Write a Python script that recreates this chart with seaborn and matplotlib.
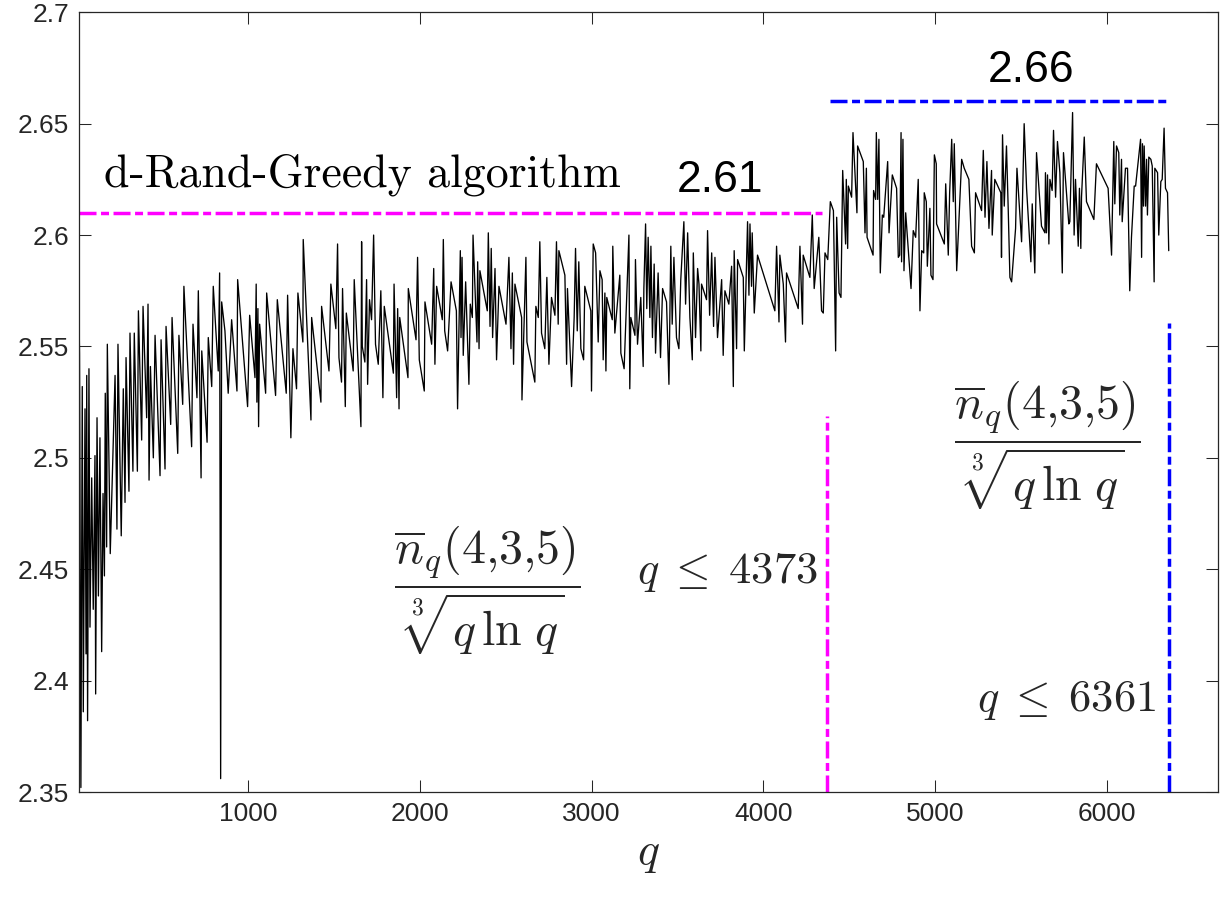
import numpy as np
import pandas as pd
import matplotlib
matplotlib.use("Agg")
import matplotlib.pyplot as plt
import seaborn as sns

# ---------------- data ----------------
q_values = [
    14, 17, 25, 33, 39, 49, 55, 59, 64, 72, 78, 88, 97, 107, 111, 119, 127, 136, 146, 154,
    162, 167, 175, 179, 196, 224, 235, 241, 260, 272, 282, 288, 305, 311, 328, 336, 354, 360,
    379, 387, 408, 416, 422, 430, 447, 457, 486, 492, 515, 521, 548, 556, 589, 596, 618, 625,
    670, 678, 701, 709, 725, 729, 760, 767, 787, 796, 825, 833, 839, 845,
    864, 883, 903, 934, 938, 996, 1008, 1039, 1046, 1050, 1056, 1060, 1066, 1101, 1107, 1159,
    1169, 1221, 1229, 1248, 1260, 1281, 1289, 1318, 1320, 1365, 1369, 1423, 1427, 1470, 1481,
    1510, 1520, 1528, 1543, 1549, 1565, 1571, 1611, 1617, 1656, 1660, 1664, 1679, 1689, 1695,
    1706, 1718, 1730, 1741, 1757, 1772, 1784, 1792,
    1845, 1849, 1864, 1870, 1878, 1882, 1930, 1932, 1977, 1986, 1996, 2025, 2029, 2068, 2080,
    2087, 2097, 2130, 2136, 2144, 2161, 2181, 2212, 2219, 2235, 2239, 2245, 2252, 2266, 2285,
    2293, 2305, 2309, 2332, 2336, 2344, 2349, 2392, 2398, 2408, 2415, 2423, 2437, 2446, 2460,
    2501, 2518, 2530, 2538, 2545, 2553, 2592, 2594, 2617, 2623,
    2669, 2675, 2689, 2698, 2708, 2727, 2739, 2751, 2766, 2786, 2795, 2805, 2809, 2844, 2854,
    2859, 2883, 2898, 2906, 2916, 2925, 2937, 2953, 2960, 2995, 2999, 3009, 3023, 3038, 3048,
    3061, 3067, 3077, 3083, 3088, 3120, 3123, 3135, 3164, 3170, 3189, 3203, 3217, 3222, 3228,
    3252, 3255, 3267, 3286, 3300, 3304, 3314, 3321, 3329, 3339, 3345, 3354, 3364, 3372, 3387,
    3401, 3413, 3436, 3450, 3461, 3469, 3479, 3494, 3508, 3519, 3537,
    3547, 3559, 3572, 3586, 3592, 3605, 3617, 3625, 3636, 3640, 3669, 3675, 3687, 3699, 3710,
    3718, 3733, 3757, 3766, 3776, 3799, 3815, 3825, 3830, 3844, 3850, 3883, 3889, 3908, 3916,
    3922, 3931, 3935, 3947, 3966, 4067, 4077, 4091, 4096, 4116, 4129, 4135, 4203, 4213, 4228,
    4232, 4271, 4285, 4296, 4323, 4339, 4349,
    4359, 4375, 4390, 4408, 4421, 4427, 4441, 4452, 4462, 4479, 4483, 4491, 4495, 4514, 4522,
    4545, 4549, 4582, 4592, 4600, 4604, 4639, 4642, 4654, 4658, 4666, 4673, 4681, 4693, 4701,
    4724, 4732, 4751, 4776, 4786, 4794, 4802, 4805, 4813, 4819, 4829, 4860, 4873, 4887, 4902,
    4912, 4922, 4934, 4937, 4949, 4955, 4970, 4976, 4988, 4996, 5007, 5009, 5029, 5054, 5062,
    5077, 5085, 5097, 5106, 5112, 5126, 5155, 5170, 5197, 5213, 5229, 5236, 5271, 5281, 5291,
    5302, 5314, 5329, 5333, 5348, 5383, 5387, 5393, 5403, 5416, 5426, 5436, 5446, 5469, 5477,
    5504, 5519, 5533, 5558, 5566, 5581, 5591, 5620, 5640, 5643, 5649, 5655, 5663, 5669, 5682,
    5690, 5702, 5713, 5727, 5741, 5748, 5779, 5785, 5801, 5810, 5818, 5834, 5841, 5849, 5853,
    5869, 5882, 5925, 5940, 6008, 6028, 6041, 6047, 6057, 6070, 6076, 6086, 6090, 6109, 6121,
    6134, 6144, 6160, 6168, 6197, 6203, 6208, 6214, 6218, 6226, 6232, 6237, 6245, 6257, 6265,
    6276, 6280, 6296, 6303, 6315, 6323, 6334, 6342, 6354, 6361,
]

ratio_values = [
    2.565, 2.547, 2.352, 2.532, 2.386, 2.522, 2.412, 2.537, 2.382, 2.540, 2.424, 2.491, 2.432,
    2.501, 2.394, 2.518, 2.438, 2.509, 2.413, 2.484, 2.447, 2.529, 2.460, 2.551, 2.457, 2.537,
    2.468, 2.551, 2.465, 2.531, 2.480, 2.545, 2.485, 2.556, 2.494, 2.556, 2.494, 2.566, 2.508,
    2.568, 2.518, 2.569, 2.490, 2.541, 2.500, 2.555, 2.492, 2.553, 2.495, 2.559, 2.515, 2.563,
    2.502, 2.555, 2.524, 2.577, 2.505, 2.560, 2.527, 2.575, 2.491, 2.548, 2.507, 2.554, 2.532,
    2.577, 2.539, 2.583, 2.356, 2.570,
    2.557, 2.529, 2.562, 2.530, 2.580, 2.523, 2.564, 2.536, 2.578, 2.525, 2.567, 2.514, 2.560,
    2.529, 2.574, 2.528, 2.571, 2.529, 2.573, 2.509, 2.549, 2.531, 2.574, 2.552, 2.598, 2.517,
    2.563, 2.525, 2.568, 2.539, 2.578, 2.558, 2.596, 2.545, 2.534, 2.576, 2.523, 2.565, 2.539,
    2.580, 2.514, 2.597, 2.550, 2.543, 2.580, 2.533, 2.571, 2.562, 2.600, 2.551, 2.542, 2.575,
    2.527, 2.568,
    2.538, 2.578, 2.527, 2.567, 2.522, 2.563, 2.536, 2.576, 2.553, 2.590, 2.544, 2.530, 2.570,
    2.551, 2.585, 2.542, 2.577, 2.562, 2.598, 2.557, 2.548, 2.579, 2.566, 2.522, 2.593, 2.554,
    2.590, 2.546, 2.579, 2.533, 2.569, 2.563, 2.600, 2.552, 2.588, 2.549, 2.584, 2.566, 2.601,
    2.559, 2.594, 2.554, 2.585, 2.544, 2.577, 2.560, 2.590, 2.549, 2.583, 2.542, 2.578, 2.563,
    2.526, 2.590, 2.552,
    2.534, 2.568, 2.563, 2.597, 2.556, 2.549, 2.581, 2.542, 2.572, 2.564, 2.597, 2.560, 2.593,
    2.582, 2.542, 2.576, 2.532, 2.563, 2.594, 2.557, 2.588, 2.549, 2.544, 2.577, 2.566, 2.530,
    2.596, 2.592, 2.552, 2.584, 2.580, 2.544, 2.574, 2.539, 2.572, 2.562, 2.595, 2.556, 2.582,
    2.547, 2.540, 2.570, 2.600, 2.531, 2.563, 2.555, 2.589, 2.551, 2.572, 2.541, 2.576, 2.605,
    2.567, 2.599, 2.563, 2.595, 2.554, 2.587, 2.547, 2.583, 2.545, 2.576, 2.570, 2.533, 2.595,
    2.560, 2.590, 2.554, 2.549, 2.580, 2.606,
    2.569, 2.601, 2.563, 2.544, 2.592, 2.554, 2.585, 2.578, 2.548, 2.578, 2.571, 2.602, 2.564,
    2.592, 2.559, 2.590, 2.554, 2.580, 2.546, 2.575, 2.569, 2.586, 2.532, 2.593, 2.549, 2.589,
    2.581, 2.548, 2.606, 2.573, 2.605, 2.577, 2.601, 2.565, 2.591, 2.566, 2.595, 2.561, 2.591,
    2.578, 2.552, 2.583, 2.567, 2.595, 2.560, 2.591, 2.581, 2.609, 2.576, 2.599, 2.566, 2.565,
    2.592, 2.589, 2.615, 2.611, 2.548, 2.608, 2.574, 2.572, 2.629, 2.596, 2.625, 2.594, 2.622,
    2.617, 2.646, 2.610, 2.640, 2.633, 2.601, 2.630, 2.599, 2.591, 2.620, 2.616, 2.646, 2.616,
    2.643, 2.583, 2.609, 2.608, 2.633, 2.601, 2.627, 2.621, 2.590, 2.591, 2.646, 2.588, 2.643,
    2.584, 2.610, 2.576, 2.602, 2.599, 2.625, 2.566, 2.593, 2.592, 2.619, 2.615, 2.586, 2.612,
    2.582, 2.580, 2.636, 2.632, 2.605, 2.601, 2.596, 2.623, 2.591, 2.619, 2.643, 2.615, 2.641,
    2.584, 2.634, 2.630, 2.625, 2.595, 2.592, 2.619, 2.611, 2.638, 2.608,
    2.633, 2.603, 2.629, 2.600, 2.625, 2.619, 2.590, 2.645, 2.613, 2.640, 2.612, 2.581, 2.579,
    2.603, 2.630, 2.597, 2.650, 2.621, 2.588, 2.614, 2.583, 2.637, 2.604, 2.601, 2.628, 2.601,
    2.627, 2.596, 2.625, 2.620, 2.647, 2.617, 2.642, 2.628, 2.583, 2.637, 2.605, 2.606, 2.655,
    2.600, 2.625, 2.595, 2.621, 2.594, 2.617, 2.644, 2.615, 2.607, 2.632, 2.621, 2.591, 2.642,
    2.614, 2.640, 2.637, 2.609, 2.634, 2.606, 2.630, 2.630, 2.575, 2.599, 2.622, 2.622, 2.643,
    2.590, 2.641, 2.613, 2.640, 2.613, 2.634, 2.609, 2.635, 2.634, 2.631, 2.579, 2.630, 2.628,
    2.600, 2.624, 2.625, 2.648, 2.621, 2.619, 2.593,
]

x_ticks = [1000, 2000, 3000, 4000, 5000, 6000]
x_tick_labels = ["1000", "2000", "3000", "4000", "5000", "6000"]
y_ticks = [2.35, 2.40, 2.45, 2.50, 2.55, 2.60, 2.65, 2.70]
y_tick_labels = ["2.35", "2.4", "2.45", "2.5", "2.55", "2.6", "2.65", "2.7"]

rand_greedy_level = 2.61
rand_greedy_qmax = 4373
rand_greedy_hline_q = [14, 4342]
rand_greedy_vline_top = 2.519

other_level = 2.66
other_qmax = 6361
other_hline_q = [4388, 6368]
other_vline_top = 2.5605

# ---------------- styling ----------------
sns.set_theme(style="ticks")
plt.rcParams["font.family"] = ["Liberation Sans", "DejaVu Sans"]
plt.rcParams["mathtext.fontset"] = "cm"

axis_gray = "#262626"
magenta = "#FF00FF"
blue = "#0000FF"
dash_pat = (4.9, 1.3, 2.3, 1.3)

fig = plt.figure(figsize=(12.22, 8.99), dpi=100)
ax = fig.add_axes([79 / 1222, 107 / 899, 1139 / 1222, 779.7 / 899])

df = pd.DataFrame({"q": q_values, "ratio": ratio_values})
sns.lineplot(data=df, x="q", y="ratio", ax=ax, color="black", linewidth=0.95,
             estimator=None, sort=True)

# reference levels
ax.plot(rand_greedy_hline_q, [rand_greedy_level, rand_greedy_level], color=magenta,
        lw=2.5, dashes=dash_pat)
ax.plot([rand_greedy_qmax, rand_greedy_qmax], [2.35, rand_greedy_vline_top], color=magenta,
        lw=2.5, dashes=dash_pat)
ax.plot(other_hline_q, [other_level, other_level], color=blue, lw=2.5, dashes=dash_pat)
ax.plot([other_qmax, other_qmax], [2.35, other_vline_top], color=blue, lw=2.5,
        dashes=dash_pat)

ax.set_xlim(14, 6648)
ax.set_ylim(2.35, 2.7)
ax.set_xticks(x_ticks)
ax.set_xticklabels(x_tick_labels)
ax.set_yticks(y_ticks)
ax.set_yticklabels(y_tick_labels)
ax.tick_params(direction="in", length=8.5, width=0.75, labelsize=19, colors=axis_gray,
               top=True, right=True, pad=7)
for sp in ax.spines.values():
    sp.set_visible(True)
    sp.set_color(axis_gray)
    sp.set_linewidth(0.9)

ax.set_ylabel("")
ax.set_xlabel(r"$q$", fontsize=33, labelpad=4)

# annotations
ax.text(160, 2.6216, "d-Rand-Greedy algorithm", family="cmr10", fontsize=33,
        va="baseline", ha="left", color="black")
ax.text(3747, 2.6246, "2.61", fontsize=32, ha="center", va="center", color="black")
ax.text(5558, 2.674, "2.66", fontsize=32, ha="center", va="center", color="black")

frac = r"$\dfrac{\overline{n}_q(4{,}3{,}5)}{\sqrt[3]{q\,\ln\,q}}$"
ax.text(2390, 2.4407, frac, fontsize=34.5, ha="center", va="center")
ax.text(5652, 2.5057, frac, fontsize=34.5, ha="center", va="center")
ax.text(3790, 2.4487, r"$q\;\leq\;4373$", fontsize=32, ha="center", va="center")
ax.text(5765, 2.3913, r"$q\;\leq\;6361$", fontsize=32, ha="center", va="center")

fig.savefig("out.png", dpi=100)
